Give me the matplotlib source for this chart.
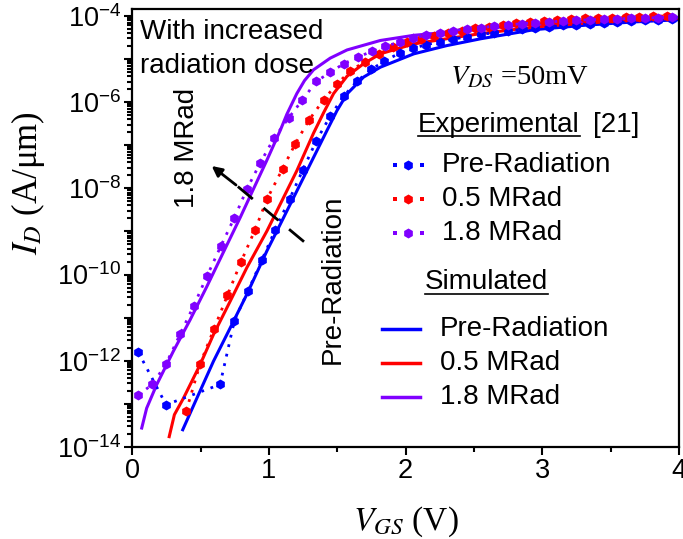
import numpy as np
import matplotlib
matplotlib.use('Agg')
import matplotlib.pyplot as plt
from matplotlib.ticker import FixedLocator, FuncFormatter, MultipleLocator, NullFormatter

plt.rcParams['font.family'] = ['Liberation Sans', 'DejaVu Sans']
plt.rcParams['mathtext.fontset'] = 'custom'
plt.rcParams['mathtext.rm'] = 'Liberation Sans'
plt.rcParams['mathtext.it'] = 'Liberation Sans:italic'

# ---------------- data (log10 of I_D in A/um) ----------------
series_names = ['Pre-Radiation', '0.5 MRad', '1.8 MRad']
colors = ['#0000FF', '#FF0000', '#8000FF']

# Experimental [21]
pre_exp_v = [0.044, 0.247, 0.642, 0.747, 0.845, 0.948, 1.045, 1.152, 1.248, 1.346, 1.447,
             1.547, 1.646, 1.749, 1.844, 1.957, 2.054, 2.15, 2.25, 2.35, 2.45, 2.55, 2.65,
             2.75, 2.85, 2.95, 3.05, 3.15, 3.25, 3.35, 3.45, 3.55, 3.65, 3.75, 3.85, 3.95]
pre_exp_log = [-11.80, -13.02, -12.55, -11.07, -10.39, -9.66, -8.97, -8.24, -7.57, -6.90, -6.33,
               -5.86, -5.51, -5.24, -5.05, -4.86, -4.75, -4.67, -4.60, -4.54, -4.48, -4.43, -4.39,
               -4.35, -4.31, -4.28, -4.25, -4.22, -4.20, -4.18, -4.16, -4.14, -4.12, -4.10, -4.09, -4.07]

mid_exp_v = [0.394, 0.496, 0.598, 0.696, 0.796, 0.897, 0.987, 1.099, 1.192, 1.294, 1.399,
             1.497, 1.595, 1.700, 1.802, 1.908, 2.010, 2.11, 2.21, 2.31, 2.41, 2.51, 2.61,
             2.71, 2.81, 2.91, 3.01, 3.11, 3.21, 3.31, 3.41, 3.51, 3.61, 3.71, 3.81, 3.91]
mid_exp_log = [-13.17, -12.07, -11.26, -10.48, -9.70, -8.97, -8.24, -7.55, -6.97, -6.41, -5.95,
               -5.58, -5.28, -5.06, -4.88, -4.73, -4.61, -4.53, -4.46, -4.40, -4.34, -4.29, -4.25,
               -4.21, -4.17, -4.14, -4.12, -4.10, -4.08, -4.06, -4.05, -4.04, -4.03, -4.02, -4.01, -4.00]

hi_exp_v = [0.044, 0.147, 0.247, 0.349, 0.450, 0.547, 0.648, 0.747, 0.838, 0.936, 1.038,
            1.143, 1.245, 1.346, 1.448, 1.546, 1.648, 1.754, 1.851, 1.956, 2.054, 2.15, 2.25,
            2.35, 2.45, 2.55, 2.65, 2.75, 2.85, 2.95, 3.05, 3.15, 3.25, 3.35, 3.45, 3.55,
            3.65, 3.75, 3.85, 3.95]
hi_exp_log = [-12.79, -12.55, -12.07, -11.39, -10.72, -10.03, -9.34, -8.68, -8.02, -7.41, -6.83,
              -6.37, -5.95, -5.52, -5.31, -5.11, -4.96, -4.82, -4.70, -4.61, -4.51, -4.45, -4.39,
              -4.34, -4.30, -4.27, -4.24, -4.21, -4.18, -4.16, -4.14, -4.12, -4.10, -4.09, -4.08, -4.07,
              -4.06, -4.05, -4.04, -4.03]

# Simulated
pre_sim_v = [0.369, 0.472, 0.594, 0.716, 0.838, 0.985, 1.058, 1.278, 1.424, 1.497, 1.571,
             1.692, 1.815, 2.06, 2.30, 2.55, 2.94, 3.30, 3.67, 4.00]
pre_sim_log = [-13.60, -12.87, -12.01, -11.24, -10.46, -9.45, -8.99, -7.59, -6.66, -6.20, -5.81,
               -5.42, -5.19, -4.88, -4.69, -4.53, -4.32, -4.22, -4.14, -4.09]

mid_sim_v = [0.270, 0.308, 0.374, 0.496, 0.594, 0.716, 0.838, 0.985, 1.204, 1.326, 1.399,
             1.473, 1.571, 1.692, 1.815, 2.06, 2.30, 2.55, 2.94, 3.30, 3.67, 4.00]
mid_sim_log = [-13.76, -13.25, -12.87, -12.09, -11.39, -10.62, -9.84, -8.99, -7.59, -6.72, -6.25,
               -5.80, -5.40, -5.11, -4.88, -4.65, -4.53, -4.41, -4.26, -4.17, -4.10, -4.05]

hi_sim_v = [0.069, 0.105, 0.179, 0.300, 0.423, 0.545, 0.679, 0.789, 0.874, 0.980, 1.082,
            1.131, 1.204, 1.260, 1.326, 1.448, 1.571, 1.815, 2.06, 2.30, 2.55, 2.94, 3.30,
            3.67, 4.00]
hi_sim_log = [-13.56, -13.10, -12.55, -11.78, -11.05, -10.28, -9.40, -8.68, -8.10, -7.38, -6.66,
              -6.28, -5.80, -5.50, -5.25, -4.98, -4.79, -4.57, -4.45, -4.38, -4.30, -4.19, -4.12,
              -4.07, -4.03]

exp_v = [pre_exp_v, mid_exp_v, hi_exp_v]
exp_log = [pre_exp_log, mid_exp_log, hi_exp_log]
sim_v = [pre_sim_v, mid_sim_v, hi_sim_v]
sim_log = [pre_sim_log, mid_sim_log, hi_sim_log]

# ---------------- figure ----------------
W, H = 683, 539
fig = plt.figure(figsize=(W / 100, H / 100), dpi=100)
ax_l, ax_r, ax_t, ax_b = 132.3, 679.0, 9.0, 447.0
ax = fig.add_axes([ax_l / W, 1 - ax_b / H, (ax_r - ax_l) / W, (ax_b - ax_t) / H])


def pa(px, py):
    """figure pixel (from top-left) -> axes fraction"""
    return (px - ax_l) / (ax_r - ax_l), (ax_b - py) / (ax_b - ax_t)


for v, lg, c in zip(sim_v, sim_log, colors):
    ax.plot(v, 10 ** np.array(lg), '-', color=c, lw=2.2, zorder=2)
for v, lg, c in zip(exp_v, exp_log, colors):
    ax.plot(v, 10 ** np.array(lg), linestyle=(0, (1, 2.5)), lw=2, color=c,
            marker='h', ms=7.2, mew=0, zorder=3)

ax.set_yscale('log')
ax.set_xlim(0, 4)
ax.set_ylim(1e-14, 10 ** -3.84)

ax.xaxis.set_major_locator(MultipleLocator(1))
ax.xaxis.set_minor_locator(MultipleLocator(0.5))
ax.xaxis.set_major_formatter(FuncFormatter(lambda x, p: f'{int(round(x))}'))

decades = [10.0 ** e for e in range(-14, -3)]
ax.yaxis.set_major_locator(FixedLocator(decades))
minors = [m * 10.0 ** e for e in range(-14, -4) for m in range(2, 10)]
ax.yaxis.set_minor_locator(FixedLocator(minors))
ax.yaxis.set_minor_formatter(NullFormatter())


def yfmt(y, p):
    e = int(round(np.log10(y)))
    if e % 2 == 0:
        return r'$\mathregular{10^{%d}}$' % e
    return ''


ax.yaxis.set_major_formatter(FuncFormatter(yfmt))

ax.tick_params(which='both', direction='out', width=1.5, labelsize=19.5, top=False, right=False)
ax.tick_params(which='major', length=6, pad=2)
ax.tick_params(which='minor', length=3.5)
for s in ax.spines.values():
    s.set_linewidth(1.6)

# axis labels
fig.text(28 / W, 1 - 183 / H, r'$I_D$ (A/μm)', rotation=90, ha='center', va='center',
         fontsize=25, family='Liberation Serif', math_fontfamily='stix')
fig.text(406 / W, 1 - 522 / H, r'$V_{GS}$ (V)', ha='center', va='center',
         fontsize=24, family='Liberation Serif', math_fontfamily='stix')

# annotations
fs = 20
x, y = pa(140, 39)
ax.text(x, y, 'With increased', transform=ax.transAxes, fontsize=fs, va='baseline', ha='left')
x, y = pa(140, 73)
ax.text(x, y, 'radiation dose', transform=ax.transAxes, fontsize=fs, va='baseline', ha='left')
x, y = pa(187, 148)
ax.text(x, y, '1.8 MRad', transform=ax.transAxes, fontsize=fs, rotation=90, ha='center', va='center')
x, y = pa(333, 279)
ax.text(x, y, 'Pre-Radiation', transform=ax.transAxes, fontsize=fs, rotation=90, ha='center', va='center')

# dashed arrow
t0 = pa(304, 241.7)
t1 = pa(236, 185)
t2 = pa(211.7, 166)
ax.plot([t0[0], t1[0]], [t0[1], t1[1]], transform=ax.transAxes, color='black', lw=2,
        linestyle=(0, (7, 5)), zorder=4)
ax.annotate('', xy=t2, xycoords='axes fraction', xytext=t1, textcoords='axes fraction',
            arrowprops=dict(arrowstyle='-|>,head_length=0.6,head_width=0.3', color='black', lw=2,
                            shrinkA=0, shrinkB=0), zorder=4)

# V_DS text
x, y = pa(450, 78)
ax.text(x, y, r'$V_{DS}$ =50mV', transform=ax.transAxes, fontsize=20.5, ha='left', va='center',
        family='Liberation Serif', math_fontfamily='stix')

# legend headers
x, y = pa(418, 125)
t_exp = ax.text(x, y, 'Experimental', transform=ax.transAxes, fontsize=fs, ha='left', va='center')
x, y = pa(593, 125)
ax.text(x, y, '[21]', transform=ax.transAxes, fontsize=fs, ha='left', va='center')
x, y = pa(425, 282)
t_sim = ax.text(x, y, 'Simulated', transform=ax.transAxes, fontsize=fs, ha='left', va='center')

# underline headers
fig.canvas.draw()
renderer = fig.canvas.get_renderer()
for t, uy in [(t_exp, 135.5), (t_sim, 293.5)]:
    bb = t.get_window_extent(renderer)
    x0 = bb.x0 / W
    x1 = bb.x1 / W
    fig.add_artist(plt.Line2D([x0, x1], [1 - uy / H, 1 - uy / H], color='black', lw=1.2,
                              transform=fig.transFigure))

# legend rows: experimental
for name, c, py in zip(series_names, colors, [165, 198.5, 233]):
    for dx in [395, 421.7]:
        ax.plot(*pa(dx, py), marker='s', ms=2.6, color=c, mew=0, transform=ax.transAxes, clip_on=False)
    ax.plot(*pa(408.3, py), marker='h', ms=7.2, color=c, mew=0, transform=ax.transAxes, clip_on=False)
    x, y = pa(441.7, py)
    ax.text(x, y, name, transform=ax.transAxes, fontsize=fs, ha='left', va='center')

# legend rows: simulated
for name, c, py in zip(series_names, colors, [328.5, 362.5, 396.5]):
    a0 = pa(381.7, py)
    a1 = pa(420, py)
    ax.plot([a0[0], a1[0]], [a0[1], a1[1]], color=c, lw=2.5, transform=ax.transAxes)
    x, y = pa(440, py)
    ax.text(x, y, name, transform=ax.transAxes, fontsize=fs, ha='left', va='center')

fig.savefig('out.png', dpi=100)
